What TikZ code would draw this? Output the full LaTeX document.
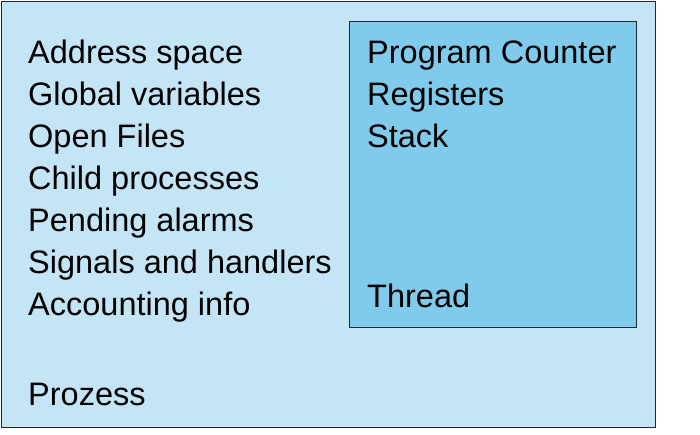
\documentclass[tikz,border=0pt]{standalone}
\usepackage{fontspec}
\setmainfont{Liberation Sans}
\definecolor{procblue}{HTML}{C4E5F5}
\definecolor{threadblue}{HTML}{80CBEB}
\definecolor{frame}{HTML}{1C2A36}
\begin{document}
\begin{tikzpicture}[x=1pt, y=-1pt,
  box/.style={rectangle, draw=frame, line width=1.4pt, anchor=north west, inner sep=0},
  item/.style={anchor=base west, inner sep=0, font=\fontsize{32.5}{40}\selectfont}]
  \useasboundingbox (0, 0) rectangle (700, 434);

  \node[box, fill=procblue, minimum width=654pt, minimum height=426pt] (proc) at (1, 1) {};
  \node[box, fill=threadblue, minimum width=287pt, minimum height=306pt] (thread) at (349, 21) {};

  \node[item] (as) at (28, 63) {Address space};
  \node[item] (gv) at (28, 105) {Global variables};
  \node[item] (of) at (28, 147) {Open Files};
  \node[item] (cp) at (28, 189) {Child processes};
  \node[item] (pa) at (28, 231) {Pending alarms};
  \node[item] (sh) at (28, 273) {Signals and handlers};
  \node[item] (ai) at (28, 315) {Accounting info};

  \node[item] (pz) at (28, 405) {Prozess};

  \node[item] (pc) at (367, 63) {Program Counter};
  \node[item] (rg) at (367, 105) {Registers};
  \node[item] (st) at (367, 147) {Stack};

  \node[item] (th) at (367, 307) {Thread};

\end{tikzpicture}
\end{document}
